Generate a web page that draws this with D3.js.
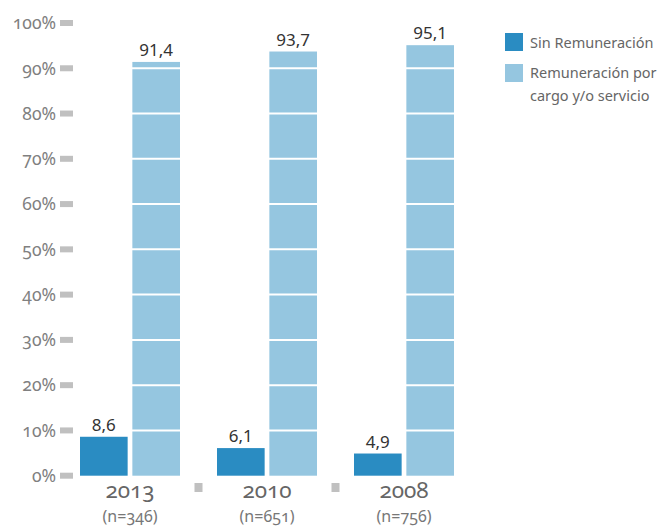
<!DOCTYPE html>
<html><head><meta charset="utf-8">
<script src="https://cdn.jsdelivr.net/npm/d3@7"></script>
<style>
body{margin:0;background:#fff;}
svg{font-family:"Noto Sans",sans-serif;}
.onum{font-feature-settings:"onum";}
</style></head>
<body><svg id="c" width="659" height="527"></svg>
<script>
const years = ["2013","2010","2008"];
const samples = ["(n=346)","(n=651)","(n=756)"];
const seriesNames = ["Sin Remuneración","Remuneración por cargo y/o servicio"];
const sinRemuneracion = [8.6, 6.1, 4.9];
const conRemuneracion = [91.4, 93.7, 95.1];
const yTicks = [0,10,20,30,40,50,60,70,80,90,100];
const colors = ["#2a8cc2","#95c6e0"];

const svg = d3.select("#c");
const y = d3.scaleLinear().domain([0,100]).range([475.7,23]);
const xg = d3.scalePoint().domain(years).range([130,404]);
const xs = d3.scaleBand().domain([0,1]).range([-50,50]).paddingInner(0.09);
const fmt = v => d3.format(".1f")(v).replace(".", ",");

// y axis ticks
const yt = svg.append("g");
yt.selectAll("rect").data(yTicks).join("rect")
  .attr("x",60).attr("y",d=>y(d)-3).attr("width",13).attr("height",6).attr("fill","#c0c0c0");
yt.selectAll("text").data(yTicks).join("text").attr("class","onum")
  .attr("x",56).attr("y",d=>y(d)).attr("dy","0.36em").attr("text-anchor","end")
  .attr("font-size",17.5).attr("fill","#808080").text(d=>d+"%");

// bars
const data = years.map((yr,i)=>({yr, vals:[sinRemuneracion[i], conRemuneracion[i]]}));
const g = svg.append("g");
data.forEach(d=>{
  d.vals.forEach((v,k)=>{
    const x = xg(d.yr)+xs(k);
    g.append("rect").attr("x",x).attr("y",y(v)).attr("width",xs.bandwidth())
      .attr("height",y(0)-y(v)).attr("fill",colors[k]);
  });
});
// white grid lines over bars
svg.append("g").selectAll("line").data(yTicks.filter(t=>t>0)).join("line")
  .attr("x1",75).attr("x2",470).attr("y1",d=>y(d)).attr("y2",d=>y(d))
  .attr("stroke","#fff").attr("stroke-width",2);
// value labels
data.forEach(d=>{
  d.vals.forEach((v,k)=>{
    svg.append("text").attr("x",xg(d.yr)+xs(k)+xs.bandwidth()/2).attr("y",y(v)-6)
      .attr("text-anchor","middle").attr("font-size",17).attr("fill","#333").text(fmt(v));
  });
});
// x labels
years.forEach((yr,i)=>{
  svg.append("text").attr("class","onum").attr("x",xg(yr)).attr("y",498).attr("text-anchor","middle")
    .attr("font-size",22.5).attr("fill","#666").text(yr);
  svg.append("text").attr("class","onum").attr("x",xg(yr)).attr("y",522).attr("text-anchor","middle")
    .attr("font-size",16).attr("fill","#777").text(samples[i]);
});
// separators
for(let i=0;i<years.length-1;i++){
  const mx=(xg(years[i])+xg(years[i+1]))/2;
  svg.append("rect").attr("x",mx-4).attr("y",483).attr("width",8).attr("height",9).attr("fill","#c0c0c0");
}
// legend
const lg = svg.append("g");
lg.append("rect").attr("x",505).attr("y",33).attr("width",18).attr("height",18).attr("fill",colors[0]);
lg.append("rect").attr("x",505).attr("y",64).attr("width",18).attr("height",18).attr("fill",colors[1]);
lg.append("text").attr("x",530).attr("y",48).attr("font-size",14.5).attr("fill","#666").text(seriesNames[0]);
const t2 = lg.append("text").attr("font-size",14.5).attr("fill","#666");
t2.append("tspan").attr("x",530).attr("y",78).text("Remuneración por");
t2.append("tspan").attr("x",530).attr("y",101).text("cargo y/o servicio");
</script></body></html>
